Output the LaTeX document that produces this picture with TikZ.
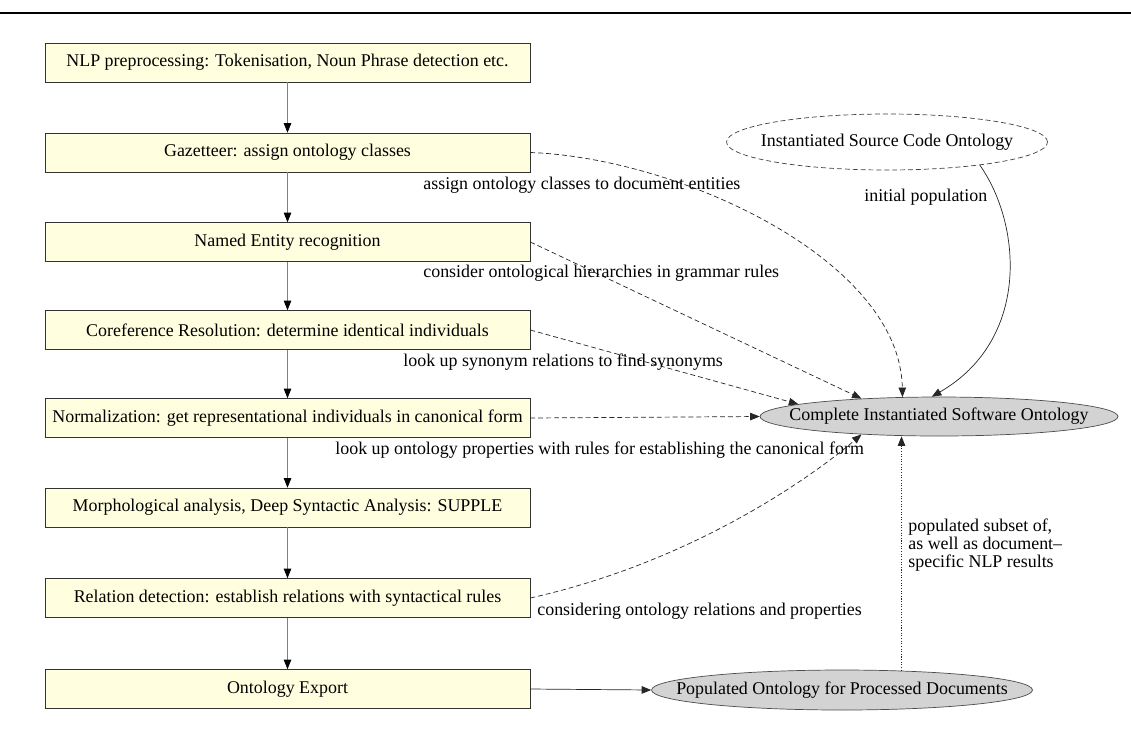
\documentclass[tikz,border=0pt]{standalone}
\usepackage{fontspec}
\setmainfont{Liberation Serif}
\usepackage{xcolor}
\usepackage{tikz}
\usetikzlibrary{shapes.geometric,arrows.meta,positioning,calc}

\definecolor{boxfill}{HTML}{FFFFE0}
\definecolor{ovalfill}{HTML}{D3D3D3}

\begin{document}
\begin{tikzpicture}[x=0.02cm, y=-0.02cm,
    font=\fontsize{10.2pt}{12pt}\selectfont,
    box/.style={rectangle, draw=black!80, fill=boxfill, minimum width=9.7cm, minimum height=0.78cm, align=center},
    oval/.style={ellipse, draw=black!70, fill=ovalfill, inner sep=0pt},
    flow/.style={draw=black!50, -{Triangle[length=0.19cm, width=0.15cm, color=black]}},
    arrow/.style={draw=black!85, -{Triangle[length=0.19cm, width=0.15cm]}},
    dasharrow/.style={arrow, dash pattern=on 2.8pt off 1.7pt},
    dotarrow/.style={arrow, dash pattern=on 0.6pt off 0.9pt},
    note/.style={inner sep=0pt, anchor=west}
]
\useasboundingbox (0,0) rectangle (1131,741);

% Rule on top
\draw[line width=0.04cm] (0,12.5) -- (1131,12.5);

% Processing steps
\node[box] (prep) at (287.5,62.5) {NLP preprocessing: Tokenisation, Noun Phrase detection etc.};
\node[box] (gaz) at (287.5,152.5) {Gazetteer: assign ontology classes};
\node[box] (ner) at (287.5,242) {Named Entity recognition};
\node[box] (coref) at (287.5,330) {Coreference Resolution: determine identical individuals};
\node[box] (norm) at (287.5,418) {Normalization: get representational individuals in canonical form};
\node[box] (morph) at (287.5,507.5) {Morphological analysis, Deep Syntactic Analysis: SUPPLE};
\node[box] (rel) at (287.5,598) {Relation detection: establish relations with syntactical rules};
\node[box] (export) at (287.5,689) {Ontology Export};

\draw[flow] (prep) -- (gaz);
\draw[flow] (gaz) -- (ner);
\draw[flow] (ner) -- (coref);
\draw[flow] (coref) -- (norm);
\draw[flow] (norm) -- (morph);
\draw[flow] (morph) -- (rel);
\draw[flow] (rel) -- (export);

% Ontologies
\node[oval, fill=white, draw=black!75, dash pattern=on 2.8pt off 1.7pt, minimum width=6.42cm, minimum height=1.12cm] (cso) at (887,142) {\makebox[0pt]{Instantiated Source Code Ontology}};
\node[oval, minimum width=7.16cm, minimum height=0.78cm] (csw) at (939,416.5) {\makebox[0pt]{Complete Instantiated Software Ontology}};
\node[oval, minimum width=7.62cm, minimum height=0.8cm] (pod) at (842,690) {\makebox[0pt]{Populated Ontology for Processed Documents}};

% Population of the complete ontology
\draw[dasharrow] (gaz.east) .. controls (680,158) and (900,260) .. (csw.152);
\node[note] (lgaz) at (423,185) {assign ontology classes to document entities};

\draw[dasharrow] (ner.east) -- (csw.167);
\node[note] (lner) at (423,273) {consider ontological hierarchies in grammar rules};

\draw[dasharrow] (coref.east) -- (csw.175.5);
\node[note] (lcoref) at (403,362) {look up synonym relations to find synonyms};

\draw[dasharrow] (norm.east) -- (csw.west);
\node[note] (lnorm) at (335,450) {look up ontology properties with rules for establishing the canonical form};

\draw[dasharrow] (rel.east) .. controls (700,560) and (820,470) .. (csw.193);
\node[note] (lrel) at (537,611) {considering ontology relations and properties};

\draw[arrow] (cso.346) .. controls (1022,225) and (1030,340) .. (csw.110);
\node[note] (lcso) at (864,197) {initial population};

% Export
\draw[arrow] (export.east) -- (pod.west);

\draw[dotarrow] (pod.18) -- (pod.18 |- csw.south);
\node[note, align=left, font=\fontsize{10.2pt}{10.4pt}\selectfont] (lpod) at (908,545) {populated subset of,\\as well as document--\\specific NLP results};

\end{tikzpicture}
\end{document}
